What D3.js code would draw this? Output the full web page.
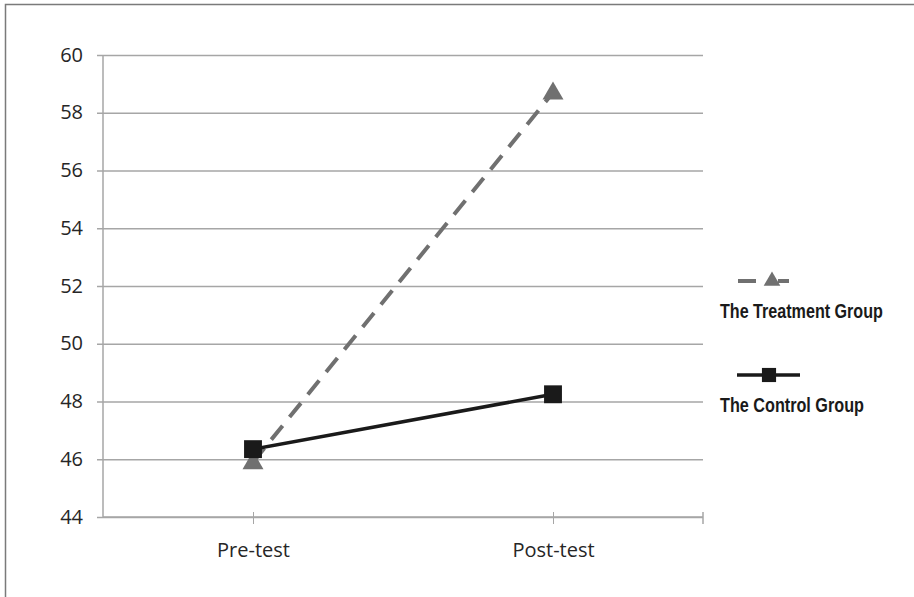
<!DOCTYPE html>
<html>
<head>
<meta charset="utf-8">
<script src="https://cdn.jsdelivr.net/npm/d3@7"></script>
<style>
  html, body { margin: 0; padding: 0; background: #fff; }
  svg { display: block; }
</style>
</head>
<body>
<svg id="chart" width="914" height="597"></svg>
<script>
// ---- data ----
const categories = ["Pre-test", "Post-test"];
const treatmentValues = [45.9, 58.7];
const controlValues = [46.35, 48.25];
const yTicks = [44, 46, 48, 50, 52, 54, 56, 58, 60];
const seriesNames = ["The Treatment Group", "The Control Group"];

const svg = d3.select("#chart");

// outer frame
svg.append("rect")
  .attr("x", 5.5).attr("y", 4.5)
  .attr("width", 930).attr("height", 620)
  .attr("fill", "none").attr("stroke", "#7a7a7a").attr("stroke-width", 1.5);

const plot = { left: 103, right: 703, top: 55, bottom: 517 };

const x = d3.scalePoint().domain(categories).range([plot.left, plot.right]).padding(0.5);
const y = d3.scaleLinear().domain([44, 60]).range([plot.bottom, plot.top]);

const gridColor = "#a6a6a6";
const labelFont = "'Open Sans', 'Noto Sans', sans-serif";

// gridlines + y axis
const yAxis = d3.axisLeft(y).tickValues(yTicks).tickSize(-(plot.right - plot.left) - 6).tickSizeOuter(0).tickPadding(0);
const gy = svg.append("g").attr("transform", `translate(${plot.left - 6},0)`).call(yAxis);
gy.select(".domain").remove();
gy.selectAll(".tick line").attr("stroke", gridColor).attr("stroke-width", 1.5);
gy.selectAll(".tick text")
  .attr("x", -14).attr("dy", "0.3em")
  .attr("fill", "#262626").style("font-family", labelFont).style("font-size", "20px");

// vertical axis line
svg.append("line")
  .attr("x1", plot.left).attr("x2", plot.left)
  .attr("y1", y(60)).attr("y2", y(44))
  .attr("stroke", gridColor).attr("stroke-width", 1.5);

// x axis
const xAxis = d3.axisBottom(x).tickSize(6).tickSizeOuter(0).tickPadding(20);
const gx = svg.append("g").attr("transform", `translate(0,${plot.bottom})`).call(xAxis);
gx.select(".domain").attr("d", `M${plot.left},0H${plot.right}`).attr("stroke", gridColor).attr("stroke-width", 1.5);
gx.selectAll(".tick line").attr("y1", -5).attr("y2", 7).attr("stroke", gridColor).attr("stroke-width", 1);
gx.selectAll(".tick text")
  .attr("fill", "#262626").style("font-family", labelFont).style("font-size", "20px");
// end tick
gx.append("line").attr("x1", plot.right).attr("x2", plot.right).attr("y1", -5).attr("y2", 7)
  .attr("stroke", gridColor).attr("stroke-width", 1.5);

// series
const line = d3.line().x((d, i) => x(categories[i])).y(d => y(d));

const treatColor = "#707070";
const ctrlColor = "#1a1a1a";
const tri = d3.symbol().type(d3.symbolTriangle);
const sq = d3.symbol().type(d3.symbolSquare);

svg.append("path").datum(treatmentValues)
  .attr("d", line).attr("fill", "none")
  .attr("stroke", treatColor).attr("stroke-width", 4)
  .attr("stroke-dasharray", "18,11");

svg.append("path").datum(controlValues)
  .attr("d", line).attr("fill", "none")
  .attr("stroke", ctrlColor).attr("stroke-width", 3.5);

svg.selectAll(".tri").data(treatmentValues).enter().append("path")
  .attr("d", tri.size(190)())
  .attr("transform", (d, i) => `translate(${x(categories[i])},${y(d) + 1})`)
  .attr("fill", treatColor);

svg.selectAll(".sq").data(controlValues).enter().append("path")
  .attr("d", sq.size(320)())
  .attr("transform", (d, i) => `translate(${x(categories[i])},${y(d)})`)
  .attr("fill", ctrlColor);

// legend
const legendFont = "'Liberation Sans Narrow', 'Arial Narrow', 'Liberation Sans', sans-serif";
const lg = svg.append("g");
function condensedText(str, tx, ty, targetW) {
  const t = lg.append("text").attr("x", 0).attr("y", 0).text(str)
    .attr("fill", "#1a1a1a").style("font-family", legendFont)
    .style("font-weight", "bold").style("font-size", "21px");
  const w = t.node().getComputedTextLength();
  const s = Math.min(1, targetW / w);
  t.attr("transform", `translate(${tx},${ty}) scale(${s},1)`);
}
// treatment
lg.append("line").attr("x1", 738).attr("x2", 756).attr("y1", 281).attr("y2", 281)
  .attr("stroke", treatColor).attr("stroke-width", 4);
lg.append("line").attr("x1", 778).attr("x2", 789).attr("y1", 281).attr("y2", 281)
  .attr("stroke", treatColor).attr("stroke-width", 4);
lg.append("path").attr("d", tri.size(120)()).attr("transform", "translate(772,281)").attr("fill", treatColor);
condensedText(seriesNames[0], 720, 318, 163);
// control
lg.append("line").attr("x1", 737).attr("x2", 800).attr("y1", 375).attr("y2", 375)
  .attr("stroke", ctrlColor).attr("stroke-width", 3.5);
lg.append("path").attr("d", sq.size(200)()).attr("transform", "translate(769,375)").attr("fill", ctrlColor);
condensedText(seriesNames[1], 720, 412, 144);
</script>
</body>
</html>
